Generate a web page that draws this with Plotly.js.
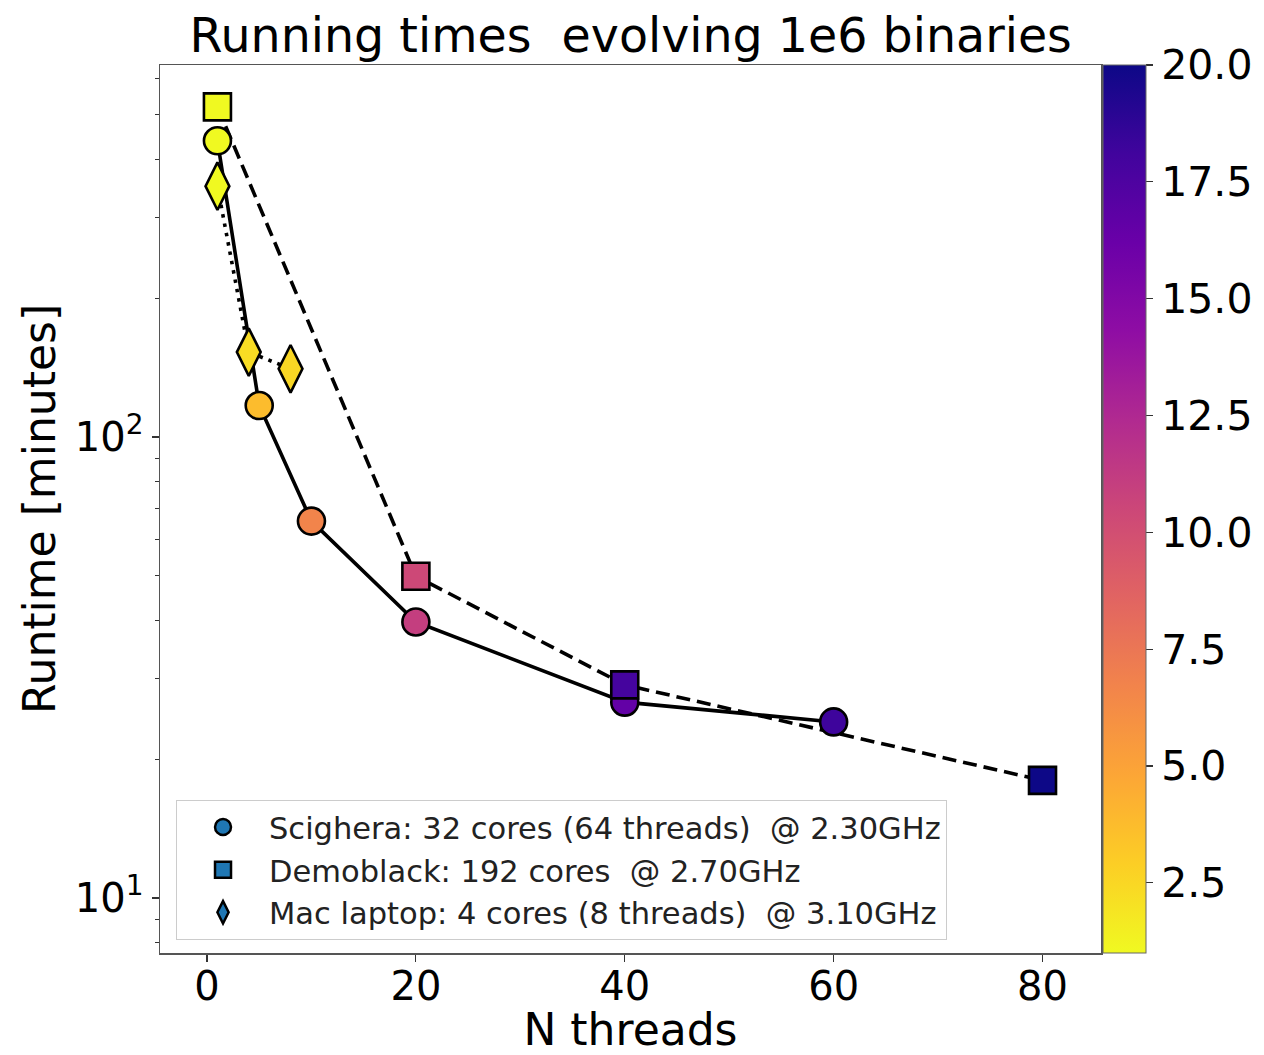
<!DOCTYPE html>
<html>
<head>
<meta charset="utf-8">
<script src="https://cdn.plot.ly/plotly-3.0.1.min.js"></script>
<style>html,body{margin:0;padding:0;background:#fff;}</style>
</head>
<body>
<div id="chart" style="width:1264px;height:1055px;"></div>
<script>
// ---- data ----
const scigheraThreads = [1, 5, 10, 20, 40, 60];
const scigheraRuntime = [439, 117, 65.7, 39.7, 26.6, 24.1];
const demoblackThreads = [1, 20, 40, 80];
const demoblackRuntime = [520, 49.9, 29.0, 18.0];
const macThreads = [1, 4, 8];
const macRuntime = [350, 152.8, 140.6];
const seriesNames = [
  "Scighera: 32 cores (64 threads)  @ 2.30GHz",
  "Demoblack: 192 cores  @ 2.70GHz",
  "Mac laptop: 4 cores (8 threads)  @ 3.10GHz"
];
const colorbarTicks = [2.5, 5, 7.5, 10, 12.5, 15, 17.5, 20];
const yTickVals = [10, 100];
const yTickText = ["10<sup>1</sup>", "10<sup>2</sup>"];
const xTickVals = [0, 20, 40, 60, 80];

// speedup relative to single thread (colour of each marker)
const speedup = arr => arr.map(v => arr[0] / v);

const plasmaR = [
  [0.0, "#f0f921"], [0.1, "#fcce25"], [0.2, "#fca636"], [0.3, "#f2844b"],
  [0.4, "#e16462"], [0.5, "#cc4778"], [0.6, "#b12a90"], [0.7, "#8f0da4"],
  [0.8, "#6a00a8"], [0.9, "#41049d"], [1.0, "#0d0887"]
];

const FONT = "DejaVu Sans, Liberation Sans, sans-serif";

function lineTrace(x, y, dash) {
  return {x, y, mode: "lines", type: "scatter", showlegend: false, hoverinfo: "skip",
          line: {color: "black", width: 3.6, dash: dash}};
}
function markerTrace(x, y, symbol, size, showscale) {
  const m = {
    color: speedup(y), colorscale: plasmaR, cmin: 1, cmax: 20,
    symbol: symbol, size: size, line: {color: "black", width: 2.6},
    showscale: showscale
  };
  if (showscale) {
    m.colorbar = {
      x: 1.001, xanchor: "left", xpad: 0, ypad: 0, y: 0.5, yanchor: "middle",
      len: 1, lenmode: "fraction", thickness: 43, thicknessmode: "pixels",
      outlinewidth: 1, outlinecolor: "#666",
      tickmode: "array", tickvals: colorbarTicks, tickformat: ".1f",
      ticks: "outside", ticklen: 7, tickwidth: 1.2, tickcolor: "#333",
      tickfont: {family: FONT, size: 41, color: "black"}
    };
  }
  return {x, y, mode: "markers", type: "scatter", showlegend: false, marker: m};
}
function legendTrace(name, symbol, size) {
  return {x: [null], y: [null], mode: "markers", type: "scatter", name: name,
          marker: {color: "#1f77b4", symbol: symbol, size: size, line: {color: "black", width: 2.5}}};
}

const data = [
  lineTrace(scigheraThreads, scigheraRuntime, "solid"),
  lineTrace(demoblackThreads, demoblackRuntime, "14px,7px"),
  lineTrace(macThreads, macRuntime, "3.5px,6px"),
  markerTrace(scigheraThreads, scigheraRuntime, "circle", 27, true),
  markerTrace(demoblackThreads, demoblackRuntime, "square", 27, false),
  markerTrace(macThreads, macRuntime, "diamond-tall", 34, false),
  legendTrace(seriesNames[0], "circle", 16),
  legendTrace(seriesNames[1], "square", 16),
  legendTrace(seriesNames[2], "diamond-tall", 16)
];

const axisCommon = {
  showline: true, mirror: true, linecolor: "#555", linewidth: 1.5,
  ticks: "outside", ticklen: 7, tickwidth: 1.2, tickcolor: "#333",
  showgrid: false, zeroline: false,
  tickfont: {family: FONT, size: 40, color: "black"}
};

const layout = {
  width: 1264, height: 1055,
  margin: {l: 160, r: 162, t: 65, b: 102, pad: 0},
  paper_bgcolor: "white", plot_bgcolor: "white",
  font: {family: FONT, color: "black"},
  title: {text: "Running times  evolving 1e6 binaries", x: 0.499, xanchor: "center",
          y: 0.982, yanchor: "top", font: {family: FONT, size: 47.5, color: "black"}},
  xaxis: Object.assign({}, axisCommon, {
    range: [-4.5, 85.6], tickmode: "array", tickvals: xTickVals,
    ticklabelstandoff: -10,
    title: {text: "N threads", font: {family: FONT, size: 44, color: "black"}, standoff: 4}
  }),
  yaxis: Object.assign({}, axisCommon, {
    type: "log", range: [Math.log10(7.6), Math.log10(641)],
    tickmode: "array", tickvals: yTickVals, ticktext: yTickText,
    minor: {tickmode: "array", tickvals: [8, 9, 20, 30, 40, 50, 60, 70, 80, 90, 200, 300, 400, 500, 600],
            ticks: "outside", ticklen: 4, tickwidth: 1, tickcolor: "#333", showgrid: false},
    title: {text: "Runtime [minutes]", font: {family: FONT, size: 44, color: "black"}, standoff: 5}
  }),
  legend: {
    x: 0.017, xanchor: "left", y: 0.015, yanchor: "bottom",
    bgcolor: "rgba(255,255,255,0.9)", bordercolor: "#ccc", borderwidth: 1,
    font: {family: FONT, size: 30.5, color: "#222"},
    itemwidth: 82
  },
  showlegend: true
};

Plotly.newPlot("chart", data, layout, {staticPlot: true, displayModeBar: false});
</script>
</body>
</html>
